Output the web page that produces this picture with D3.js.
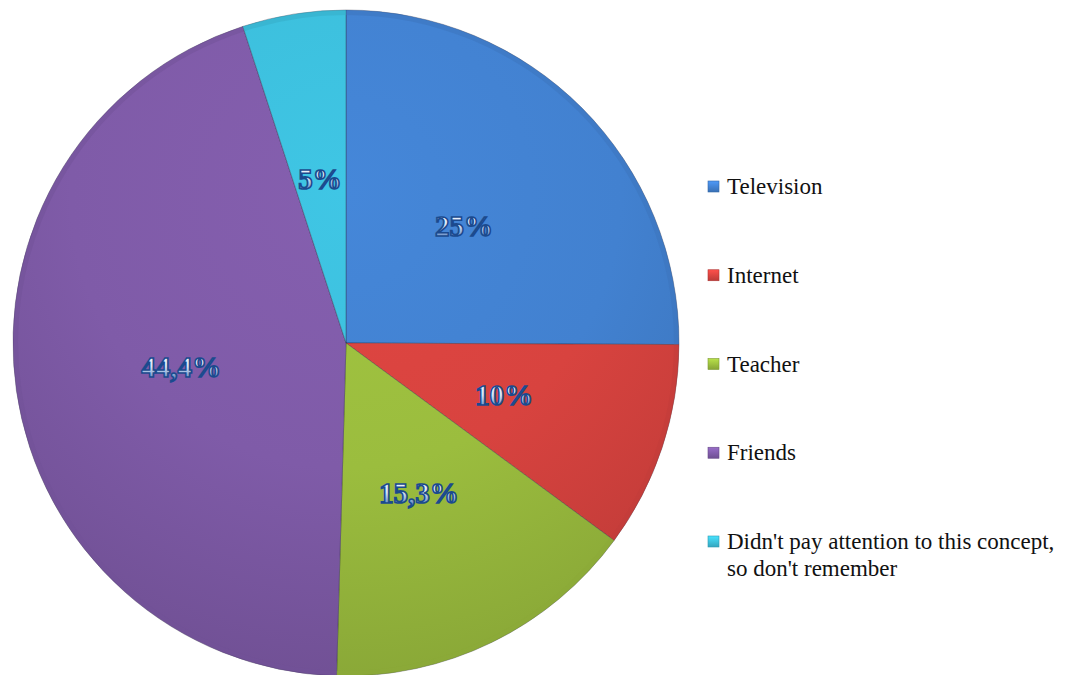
<!DOCTYPE html>
<html>
<head>
<meta charset="utf-8">
<script src="https://cdn.jsdelivr.net/npm/d3@7"></script>
</head>
<body style="margin:0;background:#fff">
<svg id="fig" width="1066" height="675" style="display:block"></svg>
<script>
// Sources of information about the concept (percent of respondents)
const categories = ["Television", "Internet", "Teacher", "Friends", "Didn't pay attention to this concept, so don't remember"];
const values = [25, 10, 15.3, 44.4, 5];
const valueLabels = ["25%", "10%", "15,3%", "44,4%", "5%"];
const legendLines = [["Television"], ["Internet"], ["Teacher"], ["Friends"], ["Didn't pay attention to this concept,", "so don't remember"]];
const colors = ["#4281d0", "#d8433f", "#9bbd3e", "#7f5ba8", "#3cbedb"];

const svg = d3.select("#fig");
const cx = 346, cy = 343, R = 333;

const defs = svg.append("defs");
colors.forEach((c, i) => {
  // gradient coordinates are in the pie group's own space (origin at centre)
  const g = defs.append("radialGradient")
    .attr("id", "sl" + i)
    .attr("gradientUnits", "userSpaceOnUse")
    .attr("cx", 0).attr("cy", -R * 0.45)
    .attr("r", R * 1.5);
  g.append("stop").attr("offset", "0%").attr("stop-color", d3.color(c).brighter(0.12).formatHex());
  g.append("stop").attr("offset", "55%").attr("stop-color", c);
  g.append("stop").attr("offset", "100%").attr("stop-color", d3.color(c).darker(0.35).formatHex());

  const lg = defs.append("linearGradient")
    .attr("id", "lg" + i).attr("x1", 0).attr("y1", 0).attr("x2", 0).attr("y2", 1);
  lg.append("stop").attr("offset", "0%").attr("stop-color", d3.color(c).brighter(0.5).formatHex());
  lg.append("stop").attr("offset", "100%").attr("stop-color", d3.color(c).darker(0.4).formatHex());
});

// Label text gradient: light face, blue lower edge
const tg = defs.append("linearGradient").attr("id", "txt").attr("x1", 0).attr("y1", 0).attr("x2", 0).attr("y2", 1);
tg.append("stop").attr("offset", "0%").attr("stop-color", "#ffffff");
tg.append("stop").attr("offset", "50%").attr("stop-color", "#d6e4f7");
tg.append("stop").attr("offset", "100%").attr("stop-color", "#3568b0");

const pie = d3.pie().sort(null).value(d => d);
const arcs = pie(values);
const arc = d3.arc().innerRadius(0).outerRadius(R);
const rim = d3.arc().innerRadius(R - 5).outerRadius(R);

const g = svg.append("g").attr("transform", `translate(${cx},${cy})`);

g.selectAll("path.slice")
  .data(arcs)
  .join("path")
  .attr("class", "slice")
  .attr("d", arc)
  .attr("fill", (d, i) => `url(#sl${i})`)
  .attr("stroke", "rgba(40,40,60,0.35)")
  .attr("stroke-width", 1);

// bevelled outer rim
g.selectAll("path.rim")
  .data(arcs)
  .join("path")
  .attr("class", "rim")
  .attr("d", rim)
  .attr("fill", (d, i) => d3.color(colors[i]).darker(0.3).formatHex())
  .attr("opacity", 0.5);

// value labels, placed at each slice's centroid
arcs.forEach((d, i) => {
  const [px, py] = arc.centroid(d);
  svg.append("text")
    .attr("x", cx + px)
    .attr("y", cy + py + 10)
    .attr("text-anchor", "middle")
    .style("font-family", `"Liberation Serif"`)
    .style("font-weight", "bold")
    .attr("font-size", 29)
    .attr("fill", "url(#txt)")
    .attr("stroke", "#1b4a8e")
    .attr("stroke-width", 1.6)
    .text(valueLabels[i]);
});

// Legend
const legendY = d3.scalePoint().domain(d3.range(categories.length)).range([186, 541]);
const lx = 708;
categories.forEach((c, i) => {
  const y = legendY(i);
  svg.append("rect")
    .attr("x", lx).attr("y", y - 5).attr("width", 11).attr("height", 11)
    .attr("fill", `url(#lg${i})`)
    .attr("stroke", d3.color(colors[i]).darker(0.6).formatHex()).attr("stroke-width", 0.6);
  legendLines[i].forEach((line, k) => {
    svg.append("text")
      .attr("x", lx + 19).attr("y", y + 8 + k * 27)
      .style("font-family", `"Liberation Serif"`)
      .attr("font-size", 23)
      .attr("fill", "#111")
      .text(line);
  });
});
</script>
</body>
</html>
